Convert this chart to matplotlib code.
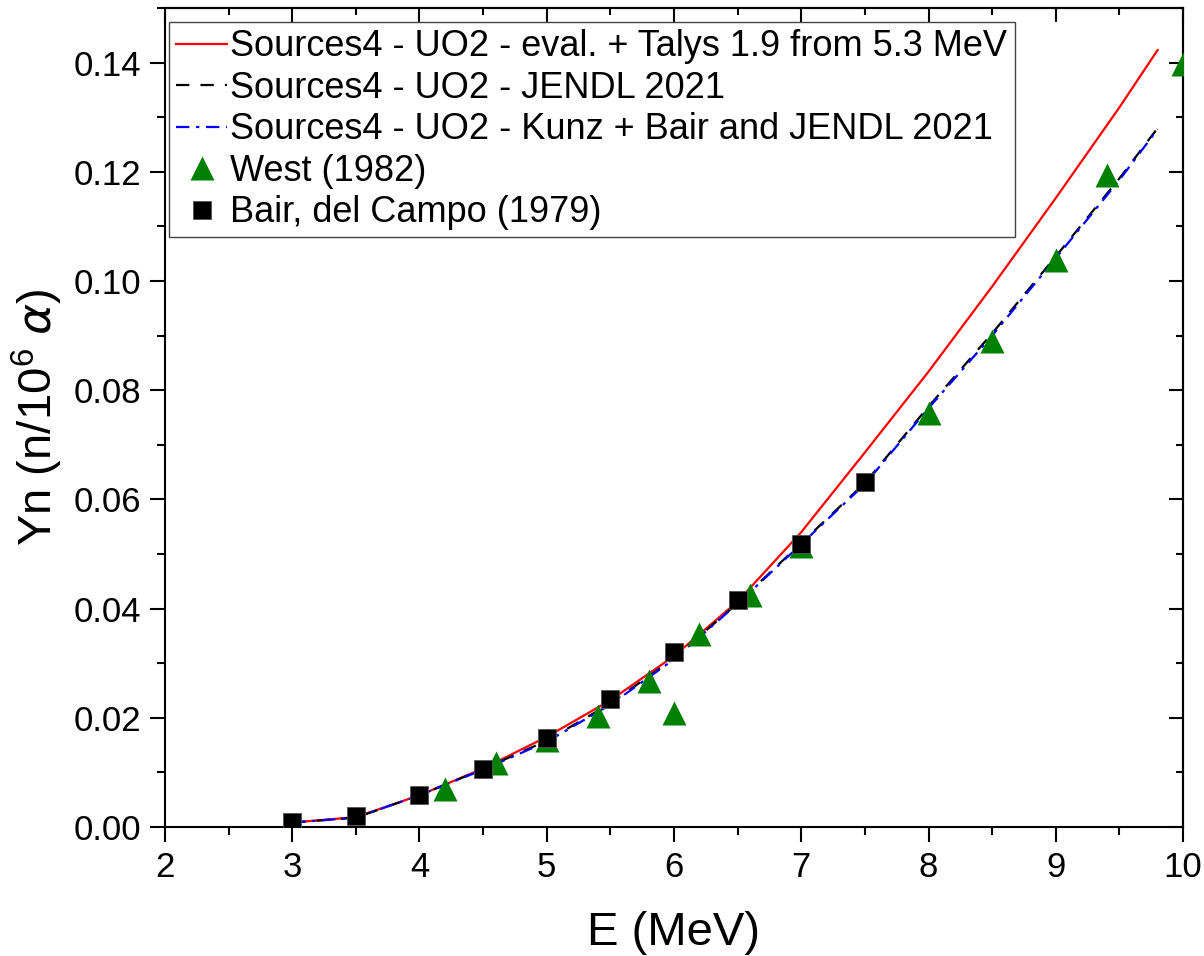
import numpy as np
import matplotlib
matplotlib.use("Agg")
import matplotlib.pyplot as plt
from matplotlib.ticker import MultipleLocator

plt.rcParams['font.family'] = ['Liberation Sans', 'DejaVu Sans']
plt.rcParams['mathtext.fontset'] = 'custom'
plt.rcParams['mathtext.rm'] = 'Liberation Sans'

# Sources4 calculations
E_calc = [3.0, 3.5, 4.0, 4.5, 5.0, 5.5, 6.0, 6.5, 7.0, 7.5, 8.0, 8.5, 9.0, 9.5, 9.8]
yn_eval = [0.0008, 0.0018, 0.0058, 0.0107, 0.0165, 0.0232, 0.0313, 0.0413, 0.0540,
           0.0686, 0.0834, 0.0990, 0.1152, 0.1318, 0.1423]
yn_jendl = [0.0008, 0.0017, 0.0058, 0.0106, 0.0158, 0.0226, 0.0309, 0.0410, 0.0520,
            0.0630, 0.0770, 0.0904, 0.1045, 0.1188, 0.1280]
yn_kunz = [0.0008, 0.0017, 0.0058, 0.0105, 0.0156, 0.0224, 0.0307, 0.0409, 0.0518,
           0.0628, 0.0767, 0.0900, 0.1042, 0.1185, 0.1278]

# experiments
E_west = [4.2, 4.6, 5.0, 5.4, 5.8, 6.0, 6.2, 6.6, 7.0, 8.0, 8.5, 9.0, 9.4, 10.0]
yn_west = [0.0070, 0.0117, 0.0160, 0.0203, 0.0268, 0.0209, 0.0354, 0.0425, 0.0515,
           0.0759, 0.0891, 0.1038, 0.1195, 0.1397]
E_bair = [3.0, 3.5, 4.0, 4.5, 5.0, 5.5, 6.0, 6.5, 7.0, 7.5]
yn_bair = [0.0009, 0.0020, 0.0059, 0.0106, 0.0163, 0.0235, 0.0321, 0.0416, 0.0519, 0.0632]

fig = plt.figure(figsize=(12.04, 9.56), dpi=100)
ax = fig.add_axes([0.137, 0.135, 0.8456, 0.8566])

ax.plot(E_calc, yn_eval, color='#ff0000', lw=1.6, zorder=3,
        label='Sources4 - UO2 - eval. + Talys 1.9 from 5.3 MeV')
ax.plot(E_calc, yn_jendl, color='black', lw=1.6, dashes=(6, 5), zorder=3,
        label='Sources4 - UO2 - JENDL 2021')
ax.plot(E_calc, yn_kunz, color='#0000ff', lw=1.6, dashes=(6, 3, 1.5, 3), zorder=3,
        label='Sources4 - UO2 - Kunz + Bair and JENDL 2021')
ax.plot(E_west, yn_west, '^', color='#008000', ms=17, mec='none', zorder=4,
        label='West (1982)')
ax.plot(E_bair, yn_bair, 's', color='black', ms=13, mec='#555555', mew=0.6, zorder=5,
        label='Bair, del Campo (1979)')

ax.set_xlim(2, 10)
ax.set_ylim(0, 0.15)
ax.xaxis.set_major_locator(MultipleLocator(1))
ax.xaxis.set_minor_locator(MultipleLocator(0.5))
ax.yaxis.set_major_locator(MultipleLocator(0.02))
ax.yaxis.set_minor_locator(MultipleLocator(0.01))
ax.yaxis.set_major_formatter(matplotlib.ticker.FormatStrFormatter('%.2f'))
ax.tick_params(which='major', direction='out', length=11, width=1.5, labelsize=25, pad=6)
ax.tick_params(which='minor', direction='out', length=6, width=1.5)
for s in ax.spines.values():
    s.set_linewidth(1.5)

# inward ticks on top and right
top = ax.secondary_xaxis('top')
top.xaxis.set_major_locator(MultipleLocator(1))
top.xaxis.set_minor_locator(MultipleLocator(0.5))
top.tick_params(which='major', direction='in', length=10, width=1.5, labeltop=False)
top.tick_params(which='minor', direction='in', length=5, width=1.5)
top.spines['top'].set_linewidth(1.5)
right = ax.secondary_yaxis('right')
right.yaxis.set_major_locator(MultipleLocator(0.02))
right.yaxis.set_minor_locator(MultipleLocator(0.01))
right.tick_params(which='major', direction='in', length=10, width=1.5, labelright=False)
right.tick_params(which='minor', direction='in', length=5, width=1.5)
right.spines['right'].set_linewidth(1.5)

ax.set_xlabel('E (MeV)', fontsize=34, labelpad=20)
ax.set_ylabel(r'Yn (n/10$^6$ $\alpha$)', fontsize=34, labelpad=6)

leg = ax.legend(loc='upper left', bbox_to_anchor=(0.004, 0.983), fontsize=26,
                numpoints=1, handlelength=1.4, handletextpad=0.1, labelspacing=0.18,
                borderaxespad=0, borderpad=0.2, fancybox=False, framealpha=1)
leg.get_frame().set_edgecolor('#444444')
leg.get_frame().set_linewidth(1.0)

fig.savefig('out.png', dpi=100)
